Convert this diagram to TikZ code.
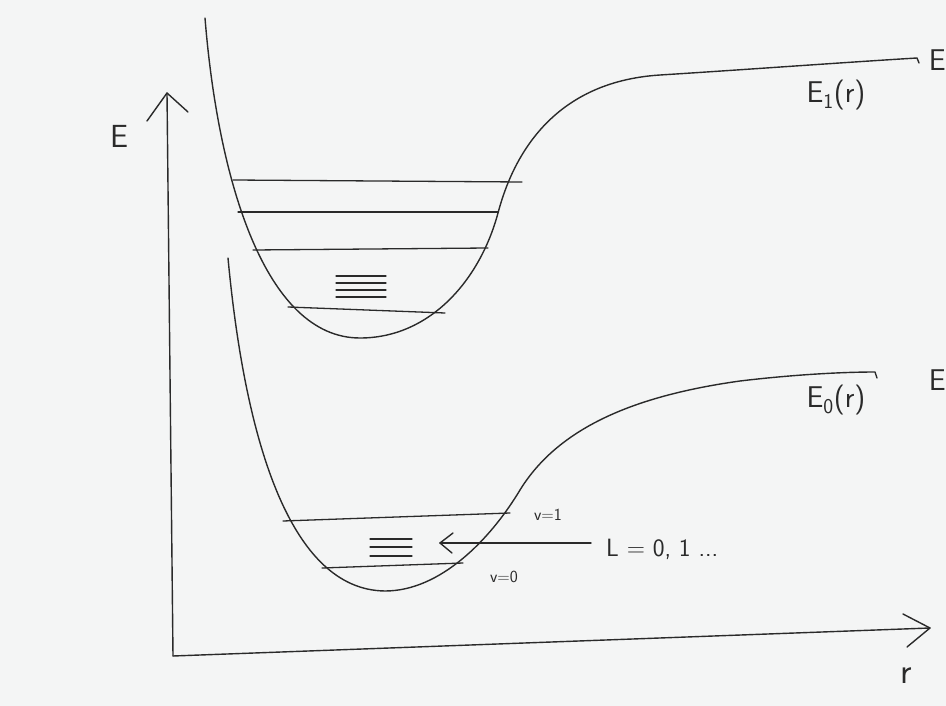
\documentclass[tikz,border=0pt]{standalone}
\usetikzlibrary{calc}
\definecolor{paper}{HTML}{F4F5F5}
\definecolor{ink}{HTML}{2A2A2A}
\tikzset{
  pen/.style={draw=ink, line width=1.4pt, line cap=round, line join=round},
  level/.style={pen, line width=1.3pt},
  vhead/.style={pen},
  lbl/.style={text=ink, inner sep=0pt, font=\sffamily},
}
\begin{document}
\begin{tikzpicture}[x=1pt, y=-1pt]
  % sheet
  \fill[paper] (0,0) rectangle (946,706);
  \useasboundingbox (0,0) rectangle (946,706);

  % axes
  \coordinate (origin) at (173,656);
  \coordinate (etip) at (167,93);
  \coordinate (rtip) at (930,628);
  \draw[pen] (origin) -- (etip);
  \draw[vhead] (147,121) -- (etip) -- (188,112);
  \draw[pen] (origin) -- (rtip);
  \draw[vhead] (903,614) -- (rtip) -- (907,647);
  \node[lbl, font=\sffamily\fontsize{32}{36}\selectfont] (elabel) at (119,136) {E};
  \node[lbl, font=\sffamily\fontsize{36}{40}\selectfont] (rlabel) at (906,676) {r};

  % upper potential curve E_1(r)
  \draw[pen] (205,18) .. controls (218,180) and (265,338) .. (360,338)
    .. controls (430,338) and (480,280) .. (498,213)
    .. controls (512,160) and (550,82) .. (660,75)
    .. controls (740,70) and (850,62) .. (917,58) -- (919,63);
  % vibrational levels of the upper state
  \draw[level] (233,180) -- (522,182);
  \draw[level] (238,212) -- (498,212);
  \draw[level] (253,250) -- (488,248);
  \draw[level] (288,307) -- (445,313);
  \foreach \yy in {276,283,290,297}
    \draw[level, line width=1.1pt] (336,\yy) -- (386,\yy);
  \node[lbl, font=\sffamily\fontsize{30}{36}\selectfont] (eone) at (836,95) {E\textsubscript{1}(r)};
  \node[lbl, font=\sffamily\fontsize{30}{36}\selectfont, anchor=east] (eonecut) at (946,60) {E};

  % lower potential curve E_0(r)
  \draw[pen] (228,258) .. controls (245,440) and (290,590) .. (385,591)
    .. controls (440,591) and (490,540) .. (520,490)
    .. controls (560,425) and (640,395) .. (740,381)
    .. controls (790,375) and (840,372) .. (875,372) -- (877,378);
  % vibrational levels of the ground state
  \draw[level] (283,521) -- (510,513);
  \draw[level] (322,568) -- (463,563);
  \foreach \yy in {539,547,556}
    \draw[level, line width=1.1pt] (370,\yy) -- (412,\yy);
  \node[lbl, font=\sffamily\fontsize{30}{36}\selectfont] (ezero) at (836,400) {E\textsubscript{0}(r)};
  \node[lbl, font=\sffamily\fontsize{30}{36}\selectfont, anchor=east] (ezerocut) at (946,380) {E};

  \node[lbl, font=\sffamily\fontsize{17}{20}\selectfont] (vone) at (548,515) {v=1};
  \node[lbl, font=\sffamily\fontsize{17}{20}\selectfont] (vzero) at (504,577) {v=0};

  % rotational levels
  \node[lbl, font=\sffamily\fontsize{25}{30}\selectfont, anchor=west] (rot) at (606,549) {L = 0, 1 ...};
  \coordinate (rotstart) at (591,543);
  \coordinate (rotend) at (440,543);
  \draw[pen] (rotstart) -- (rotend);
  \draw[vhead] (453,533) -- (rotend) -- (452,553);
\end{tikzpicture}
\end{document}
